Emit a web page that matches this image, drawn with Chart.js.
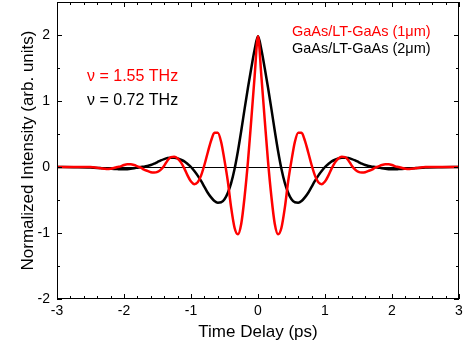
<!DOCTYPE html>
<html>
<head>
<meta charset="utf-8">
<script src="https://cdn.jsdelivr.net/npm/chart.js@4.4.1/dist/chart.umd.min.js"></script>
<style>
  html, body { margin: 0; padding: 0; background: #fff; }
  #wrap { width: 466px; height: 349px; }
</style>
</head>
<body>
<div id="wrap"><canvas id="thzChart" width="466" height="349"></canvas></div>
<script>
// time delay (ps)
const delay = [
  -3, -2.75, -2.5, -2.45, -2.4, -2.35, -2.3, -2.25, -2.2, -2.15, -2.1, -2.05,
  -2, -1.95, -1.9, -1.85, -1.8, -1.75, -1.7, -1.65, -1.6, -1.55, -1.5, -1.45,
  -1.4, -1.35, -1.3, -1.25, -1.2, -1.15, -1.1, -1.05, -1, -0.95, -0.9, -0.85,
  -0.8, -0.75, -0.7, -0.65, -0.6, -0.55, -0.5, -0.45, -0.4, -0.35, -0.3, -0.25,
  -0.2, -0.15, -0.1, -0.05, 0, 0.05, 0.1, 0.15, 0.2, 0.25, 0.3, 0.35,
  0.4, 0.45, 0.5, 0.55, 0.6, 0.65, 0.7, 0.75, 0.8, 0.85, 0.9, 0.95,
  1, 1.05, 1.1, 1.15, 1.2, 1.25, 1.3, 1.35, 1.4, 1.45, 1.5, 1.55,
  1.6, 1.65, 1.7, 1.75, 1.8, 1.85, 1.9, 1.95, 2, 2.05, 2.1, 2.15,
  2.2, 2.25, 2.3, 2.35, 2.4, 2.45, 2.5, 2.75, 3
];

// GaAs/LT-GaAs (1um), red
const signal1um = [
  0, 0, 0, -0.005, -0.01, -0.02, -0.025, -0.03, -0.025, -0.015, 0, 0.01,
  0.03, 0.04, 0.04, 0.03, 0.01, -0.01, -0.04, -0.06, -0.08, -0.085, -0.075, -0.04,
  0.02, 0.1, 0.15, 0.155, 0.13, 0.07, -0.02, -0.13, -0.22, -0.26, -0.23, -0.13,
  0.03, 0.22, 0.4, 0.52, 0.52, 0.38, 0.1, -0.22, -0.62, -0.92, -1.02, -0.86,
  -0.45, 0.08, 0.72, 1.38, 1.98, 1.38, 0.72, 0.08, -0.45, -0.86, -1.02, -0.92,
  -0.62, -0.22, 0.1, 0.38, 0.52, 0.52, 0.4, 0.22, 0.03, -0.13, -0.23, -0.26,
  -0.22, -0.13, -0.02, 0.07, 0.13, 0.155, 0.15, 0.1, 0.02, -0.04, -0.075, -0.085,
  -0.08, -0.06, -0.04, -0.01, 0.01, 0.03, 0.04, 0.04, 0.03, 0.01, 0, -0.015,
  -0.025, -0.03, -0.025, -0.02, -0.01, -0.005, 0, 0, 0
];

// GaAs/LT-GaAs (2um), black
const signal2um = [
  0, -0.003, -0.008, -0.011, -0.014, -0.017, -0.02, -0.024, -0.027, -0.03, -0.032, -0.035,
  -0.035, -0.033, -0.028, -0.02, -0.01, 0, 0.005, 0.015, 0.03, 0.05, 0.075, 0.1,
  0.12, 0.135, 0.14, 0.14, 0.13, 0.11, 0.085, 0.045, 0, -0.06, -0.13, -0.21,
  -0.3, -0.39, -0.46, -0.515, -0.54, -0.535, -0.49, -0.39, -0.24, -0.03, 0.24, 0.55,
  0.88, 1.2, 1.5, 1.78, 1.98, 1.78, 1.5, 1.2, 0.88, 0.55, 0.24, -0.03,
  -0.24, -0.39, -0.49, -0.535, -0.54, -0.515, -0.46, -0.39, -0.3, -0.21, -0.13, -0.06,
  0, 0.045, 0.085, 0.11, 0.13, 0.14, 0.14, 0.135, 0.12, 0.1, 0.075, 0.05,
  0.03, 0.015, 0.005, 0, -0.01, -0.02, -0.028, -0.033, -0.035, -0.035, -0.032, -0.03,
  -0.027, -0.024, -0.02, -0.017, -0.014, -0.011, -0.008, -0.003, 0
];

const xTicks = [-3, -2, -1, 0, 1, 2, 3];
const yTicks = [-2, -1, 0, 1, 2];

const FONT = '"Liberation Sans", Arial, sans-serif';

function toPoints(ys) {
  return delay.map((t, i) => ({ x: t, y: ys[i] }));
}

// frame, inward ticks and the text labels
const decorations = {
  id: 'decorations',
  afterDraw(chart) {
    const { ctx, chartArea: a, scales: { x, y } } = chart;
    ctx.save();
    ctx.strokeStyle = '#000';
    ctx.lineWidth = 1;
    ctx.strokeRect(a.left + 0.5, a.top + 0.5, a.right - a.left - 1, a.bottom - a.top - 1);

    ctx.beginPath();
    for (let i = 0; i <= 30; i++) {
      const v = -3 + i * 0.2;
      const px = Math.round(x.getPixelForValue(v)) + 0.5;
      const len = (i % 5 === 0) ? 5 : 3;
      ctx.moveTo(px, a.bottom); ctx.lineTo(px, a.bottom - len);
      ctx.moveTo(px, a.top); ctx.lineTo(px, a.top + len);
    }
    for (let i = 0; i <= 9; i++) {
      const v = -2 + i * 0.5;
      const py = Math.round(y.getPixelForValue(v)) + 0.5;
      const len = (i % 2 === 0) ? 5 : 3;
      ctx.moveTo(a.left, py); ctx.lineTo(a.left + len, py);
      ctx.moveTo(a.right, py); ctx.lineTo(a.right - len, py);
    }
    ctx.stroke();

    ctx.textBaseline = 'alphabetic';
    ctx.textAlign = 'left';
    ctx.font = '14.5px ' + FONT;
    ctx.fillStyle = '#ff0000';
    ctx.fillText('GaAs/LT-GaAs (1\u03bcm)', 292, 36);
    ctx.fillStyle = '#000';
    ctx.fillText('GaAs/LT-GaAs (2\u03bcm)', 292, 53);

    ctx.font = '16px ' + FONT;
    ctx.fillStyle = '#ff0000';
    ctx.fillText('\u03bd = 1.55 THz', 87, 81);
    ctx.fillStyle = '#000';
    ctx.fillText('\u03bd = 0.72 THz', 87, 105);
    ctx.restore();
  }
};

const ctx = document.getElementById('thzChart').getContext('2d');

new Chart(ctx, {
  type: 'line',
  data: {
    datasets: [
      {
        label: 'GaAs/LT-GaAs (1\u03bcm)',
        data: toPoints(signal1um),
        borderColor: '#ff0000',
        borderWidth: 2.5,
        pointRadius: 0,
        cubicInterpolationMode: 'monotone',
        fill: false
      },
      {
        label: 'GaAs/LT-GaAs (2\u03bcm)',
        data: toPoints(signal2um),
        borderColor: '#000000',
        borderWidth: 2.5,
        pointRadius: 0,
        cubicInterpolationMode: 'monotone',
        fill: false
      }
    ]
  },
  options: {
    responsive: false,
    animation: false,
    events: [],
    layout: { padding: { top: 2, right: 7, left: 0, bottom: 0 } },
    plugins: {
      legend: { display: false },
      tooltip: { enabled: false }
    },
    scales: {
      x: {
        type: 'linear',
        min: -3,
        max: 3,
        afterFit: (s) => { s.height = 50; s.paddingLeft = 0; s.paddingRight = 0; },
        afterBuildTicks: (s) => { s.ticks = xTicks.map(v => ({ value: v })); },
        grid: { display: false, drawTicks: false },
        border: { display: false },
        ticks: {
          padding: 4,
          color: '#000',
          font: { family: FONT, size: 14 },
          maxRotation: 0
        },
        title: {
          display: true,
          text: 'Time Delay (ps)',
          color: '#000',
          font: { family: FONT, size: 17 },
          padding: { top: 0, bottom: 6 }
        }
      },
      y: {
        type: 'linear',
        min: -2,
        max: 2.5,
        afterFit: (s) => { s.width = 57; s.paddingTop = 0; s.paddingBottom = 0; },
        afterBuildTicks: (s) => { s.ticks = yTicks.map(v => ({ value: v })); },
        grid: {
          drawTicks: false,
          color: (c) => (c.tick && c.tick.value === 0 ? '#000' : 'rgba(0,0,0,0)'),
          lineWidth: 1
        },
        border: { display: false },
        ticks: {
          padding: 7,
          color: '#000',
          font: { family: FONT, size: 14 }
        },
        title: {
          display: true,
          text: 'Normalized Intensity (arb. units)',
          color: '#000',
          font: { family: FONT, size: 17 },
          padding: { top: 18, bottom: 0 }
        }
      }
    }
  },
  plugins: [decorations]
});
</script>
</body>
</html>
